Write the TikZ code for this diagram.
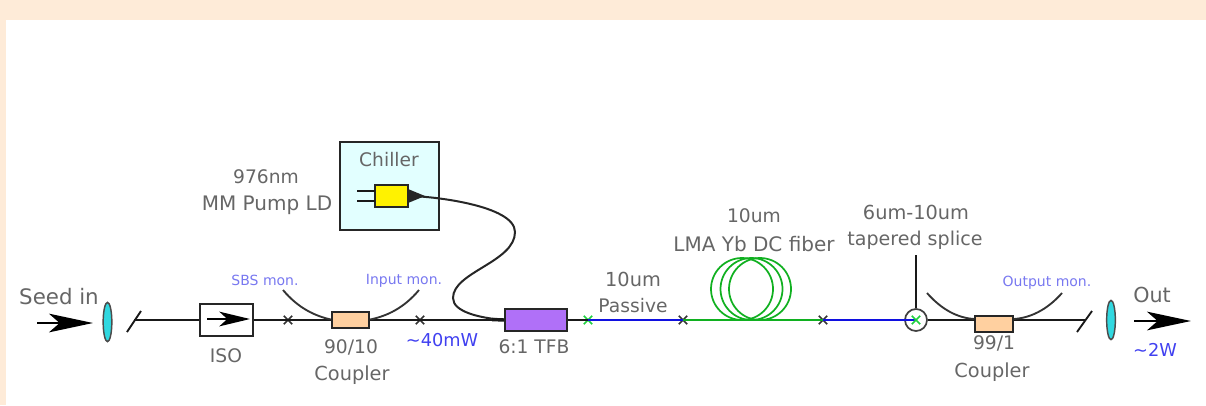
\documentclass[tikz,border=0pt]{standalone}
\usepackage{fontspec}
\setmainfont{DejaVu Sans}
\usetikzlibrary{arrows.meta,shapes.geometric,shapes.misc}
\definecolor{peach}{HTML}{FEEBD8}
\definecolor{lbl}{HTML}{666666}
\definecolor{monblue}{HTML}{7878F0}
\definecolor{powblue}{HTML}{4040F0}
\definecolor{fibgreen}{HTML}{10B020}
\definecolor{fibblue}{HTML}{1010E0}
\definecolor{xgreen}{HTML}{20D040}
\definecolor{lenscol}{HTML}{30D8E0}
\definecolor{chillcol}{HTML}{E2FFFF}
\definecolor{cplcol}{HTML}{FFD0A0}
\definecolor{tfbcol}{HTML}{B070F8}
\tikzset{
  x=0.75pt,y=-0.75pt,
  fiber/.style={line width=1.4pt,black!90},
  bigarrow/.style={line width=1.4pt,-{Stealth[length=33pt,width=14pt,inset=8pt]}},
  isoarrow/.style={line width=1.4pt,-{Stealth[length=23pt,width=11pt,inset=6pt]}},
  lens/.style={ellipse,draw=black!70,line width=1.1pt,fill=lenscol,minimum width=6.5pt,minimum height=29.5pt,inner sep=0pt},
  part/.style={rectangle,draw=black!85,line width=1.5pt,inner sep=0pt},
  txt/.style={text=lbl,font=\fontsize{#1}{15pt}\selectfont,inner sep=0pt},
  txt/.default={14pt},
  mon/.style={text=monblue,font=\fontsize{10.5pt}{12pt}\selectfont,inner sep=0pt},
  pow/.style={text=powblue,font=\fontsize{13.3pt}{15pt}\selectfont,inner sep=0pt},
  splice/.style={cross out,draw=#1,line width=1.3pt,minimum size=5pt,inner sep=0pt},
  coil/.style={circle,draw=fibgreen,line width=1.3pt,minimum size=46.5pt,inner sep=0pt},
}
\begin{document}
\begin{tikzpicture}
\useasboundingbox (0,0) rectangle (1206,405);
\fill[peach] (0,0) rectangle (1206,20);
\fill[peach] (0,0) rectangle (6,405);

% chiller and pump diode
\node[part,fill=chillcol,minimum width=74pt,minimum height=66pt] (chiller) at (389.5,186) {};
\node[txt] (chillerlabel) at (389,160) {Chiller};
\node[part,fill=yellow,minimum width=24.5pt,minimum height=16.5pt] (ld) at (391.5,196) {};
\coordinate (pinA) at (357,191);
\coordinate (pinB) at (357,201);
\coordinate (pinAe) at (375,191);
\coordinate (pinBe) at (375,201);
\draw[fiber] (pinA) -- (pinAe);
\draw[fiber] (pinB) -- (pinBe);
\fill[black!85] (408,189) -- (425,196) -- (408,203) -- cycle;

% components on the line
\node[lens] (lensA) at (107.5,322) {};
\node[lens] (lensB) at (1111,320) {};
\node[part,fill=white,minimum width=40pt,minimum height=23.5pt] (iso) at (226.5,320) {};
\node[part,fill=cplcol,minimum width=28pt,minimum height=12pt] (cplA) at (350.5,319.5) {};
\node[part,fill=tfbcol,minimum width=46.5pt,minimum height=16pt] (tfb) at (536,320) {};
\node[part,fill=cplcol,minimum width=28pt,minimum height=12pt] (cplB) at (994,323.5) {};

% splices and free ends
\coordinate (slashAa) at (127,332);
\coordinate (slashAb) at (141,311);
\coordinate (slashAm) at (134,320);
\coordinate (slashBa) at (1077,332);
\coordinate (slashBb) at (1092,311);
\coordinate (slashBm) at (1085,320);
\node[splice=black!80] (xa) at (288,320) {};
\node[splice=black!80] (xb) at (420,320) {};
\node[splice=xgreen] (xc) at (588,320) {};
\node[splice=black!80] (xd) at (683,320) {};
\node[splice=black!80] (xe) at (823,320) {};
\node[circle,draw=black!75,line width=1.3pt,minimum size=16.5pt,inner sep=0pt] (taper) at (916,320) {};

% fibres
\draw[fiber] (slashAa) -- (slashAb);
\draw[fiber] (slashAm) -- (iso.west);
\draw[fiber] (iso.east) -- (cplA.west |- iso.east);
\draw[fiber] (cplA.east |- iso.east) -- (tfb.west);
\draw[fiber] (tfb.east) -- (xc.center);
\draw[fibblue,line width=1.5pt] (xc.center) -- (xd.center);
\draw[fibgreen,line width=1.5pt] (xd.center) -- (xe.center);
\draw[fibblue,line width=1.5pt] (xe.center) -- (916,320);
\node[splice=xgreen] (xf) at (916,320) {};
\draw[fiber] (taper.east) -- (975,320) (cplB.east |- 0,320) -- (slashBm);
\draw[fiber] (slashBa) -- (slashBb);

% monitor branches
\coordinate (sbs) at (283,290);
\coordinate (inmon) at (419,290);
\coordinate (outA) at (927,293);
\coordinate (outmon) at (1062,293);
\draw[fiber,black!80] (sbs) .. controls (298,308) and (315,316) .. (cplA.west);
\draw[fiber,black!80] (inmon) .. controls (404,308) and (387,316) .. (cplA.east);
\draw[fiber,black!80] (outA) .. controls (942,310) and (958,318) .. (cplB.west |- 0,319);
\draw[fiber,black!80] (outmon) .. controls (1047,310) and (1030,318) .. (cplB.east |- 0,319);

% pump delivery fibre
\draw[fiber,line width=1.5pt,black!85] (ld.east |- 0,196) .. controls (430,196) and (515,205) .. (515,232)
  .. controls (515,262) and (453,272) .. (453,298)
  .. controls (453,312) and (480,318) .. (tfb.west);
\draw[fiber,line width=2.6pt] (492,319.5) -- (tfb.west);

% gain fibre coil
\node[coil] (coilA) at (742,289) {};
\node[coil] (coilB) at (751.5,289) {};
\node[coil] (coilC) at (760,289) {};

% taper pointer
\coordinate (tapertop) at (916,255);
\draw[fiber] (tapertop) -- (taper.north);

% arrows
\coordinate (seedS) at (37,323);
\coordinate (seedE) at (93,323);
\coordinate (isoS) at (207,319);
\coordinate (isoE) at (250,319);
\coordinate (outS) at (1134,321);
\coordinate (outE) at (1191,321);
\draw[bigarrow] (seedS) -- (seedE);
\draw[isoarrow] (isoS) -- (isoE);
\draw[bigarrow] (outS) -- (outE);

% labels
\node[txt=16pt] (t1) at (59,297) {Seed in};
\node[txt] (t2) at (226,356) {ISO};
\node[txt] (t3) at (351,347) {90/10};
\node[txt=14.5pt] (t4) at (352,375) {Coupler};
\node[txt] (t5) at (266,177) {976nm};
\node[txt=15pt] (t6) at (267,205) {MM Pump LD};
\node[txt] (t7) at (534,347) {6:1 TFB};
\node[txt=14.5pt] (t8) at (633,279) {10um};
\node[txt] (t9) at (633,306) {Passive};
\node[txt] (t10) at (754,216) {10um};
\node[txt=15pt] (t11) at (754,244) {LMA Yb DC fiber};
\node[txt=14.5pt] (t12) at (916,212) {6um-10um};
\node[txt=14.3pt] (t13) at (915,240) {tapered splice};
\node[txt] (t14) at (994,343) {99/1};
\node[txt=14.5pt] (t15) at (992,372) {Coupler};
\node[txt=15.5pt] (t16) at (1152,295) {Out};
\node[mon] (m1) at (265,280) {SBS mon.};
\node[mon] (m2) at (404,281) {Input mon.};
\node[mon] (m3) at (1047,283) {Output mon.};
\node[pow] (p1) at (442,340) {\textasciitilde40mW};
\node[pow] (p2) at (1155,350) {\textasciitilde2W};
\end{tikzpicture}
\end{document}
